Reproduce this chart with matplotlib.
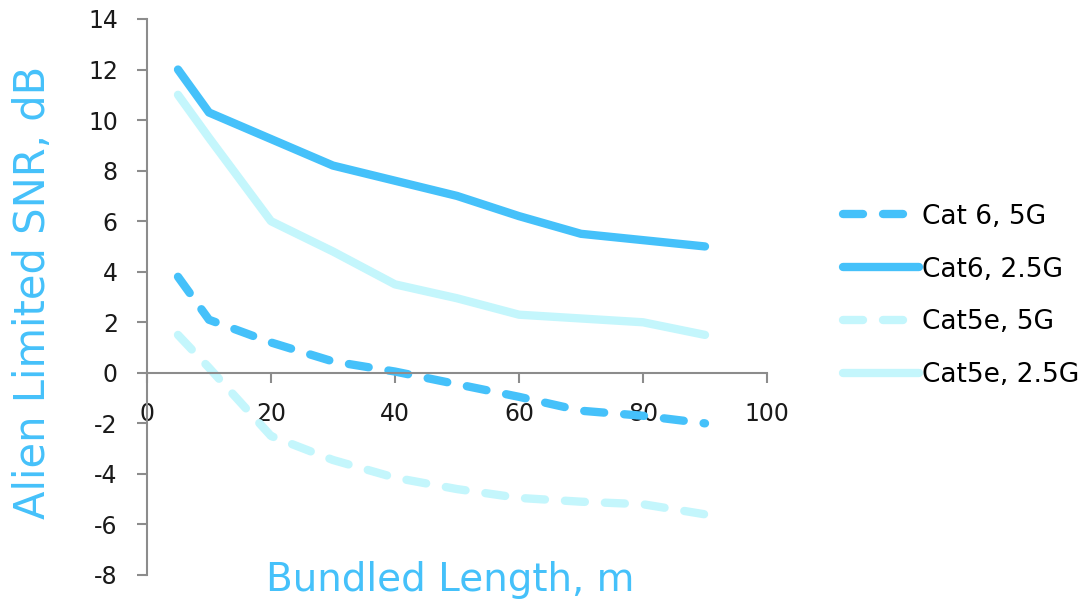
import matplotlib
matplotlib.use("Agg")
import matplotlib.pyplot as plt

lengths = [5, 10, 20, 30, 40, 50, 60, 70, 80, 90]
cat6_5g = [3.8, 2.1, 1.2, 0.45, 0.05, -0.45, -0.95, -1.5, -1.7, -2.0]
cat6_25g = [12.0, 10.3, 9.25, 8.2, 7.6, 7.0, 6.2, 5.5, 5.25, 5.0]
cat5e_5g = [1.5, 0.2, -2.5, -3.45, -4.15, -4.6, -4.95, -5.1, -5.2, -5.6]
cat5e_25g = [11.0, 9.3, 6.0, 4.8, 3.5, 2.95, 2.3, 2.15, 2.0, 1.5]
labels = ["Cat 6, 5G", "Cat6, 2.5G", "Cat5e, 5G", "Cat5e, 2.5G"]
xticks = [0, 20, 40, 60, 80, 100]
yticks = [-8, -6, -4, -2, 0, 2, 4, 6, 8, 10, 12, 14]

dark = "#45C1FA"
light = "#C4F6FC"
grey = "#8C8C8C"

fig = plt.figure(figsize=(10.91, 6.03), dpi=100)
ax = fig.add_axes([147/1091, 1-575/603, 620/1091, 556/603])

lw = 6.0
dash = (0, (2.4, 2.4))
ax.plot(lengths, cat6_5g, color=dark, lw=lw, linestyle=dash, dash_capstyle="round", solid_capstyle="round", label=labels[0])
ax.plot(lengths, cat6_25g, color=dark, lw=lw, solid_capstyle="round", solid_joinstyle="round", label=labels[1])
ax.plot(lengths, cat5e_5g, color=light, lw=lw, linestyle=dash, dash_capstyle="round", label=labels[2])
ax.plot(lengths, cat5e_25g, color=light, lw=lw, solid_capstyle="round", solid_joinstyle="round", label=labels[3])

ax.set_xlim(0, 100)
ax.set_ylim(-8, 14)
ax.set_xticks(xticks)
ax.set_yticks(yticks)
ax.set_xticklabels([str(v) for v in xticks])
ax.set_yticklabels([str(v) for v in yticks])

for s in ["top", "right"]:
    ax.spines[s].set_visible(False)
ax.spines["bottom"].set_position(("data", 0))
for s in ["left", "bottom"]:
    ax.spines[s].set_color(grey)
    ax.spines[s].set_linewidth(1.5)
ax.tick_params(axis="both", direction="out", color=grey, width=1.5, length=7,
               labelsize=17, labelcolor="#1a1a1a")
ax.tick_params(axis="x", pad=14)
ax.tick_params(axis="y", pad=14)

fig.text(450/1091, 1-580/603, "Bundled Length, m", color=dark, fontsize=28,
         ha="center", va="center")
fig.text(33/1091, 1-292/603, "Alien Limited SNR, dB", color=dark, fontsize=30,
         ha="center", va="center", rotation=90)

leg = ax.legend(loc="center left", bbox_to_anchor=(832/1091, 1-296/603),
                bbox_transform=fig.transFigure, frameon=False, fontsize=19,
                handlelength=2.9, handletextpad=0.1, labelspacing=1.02,
                borderaxespad=0)

fig.savefig("out.png", dpi=100)
